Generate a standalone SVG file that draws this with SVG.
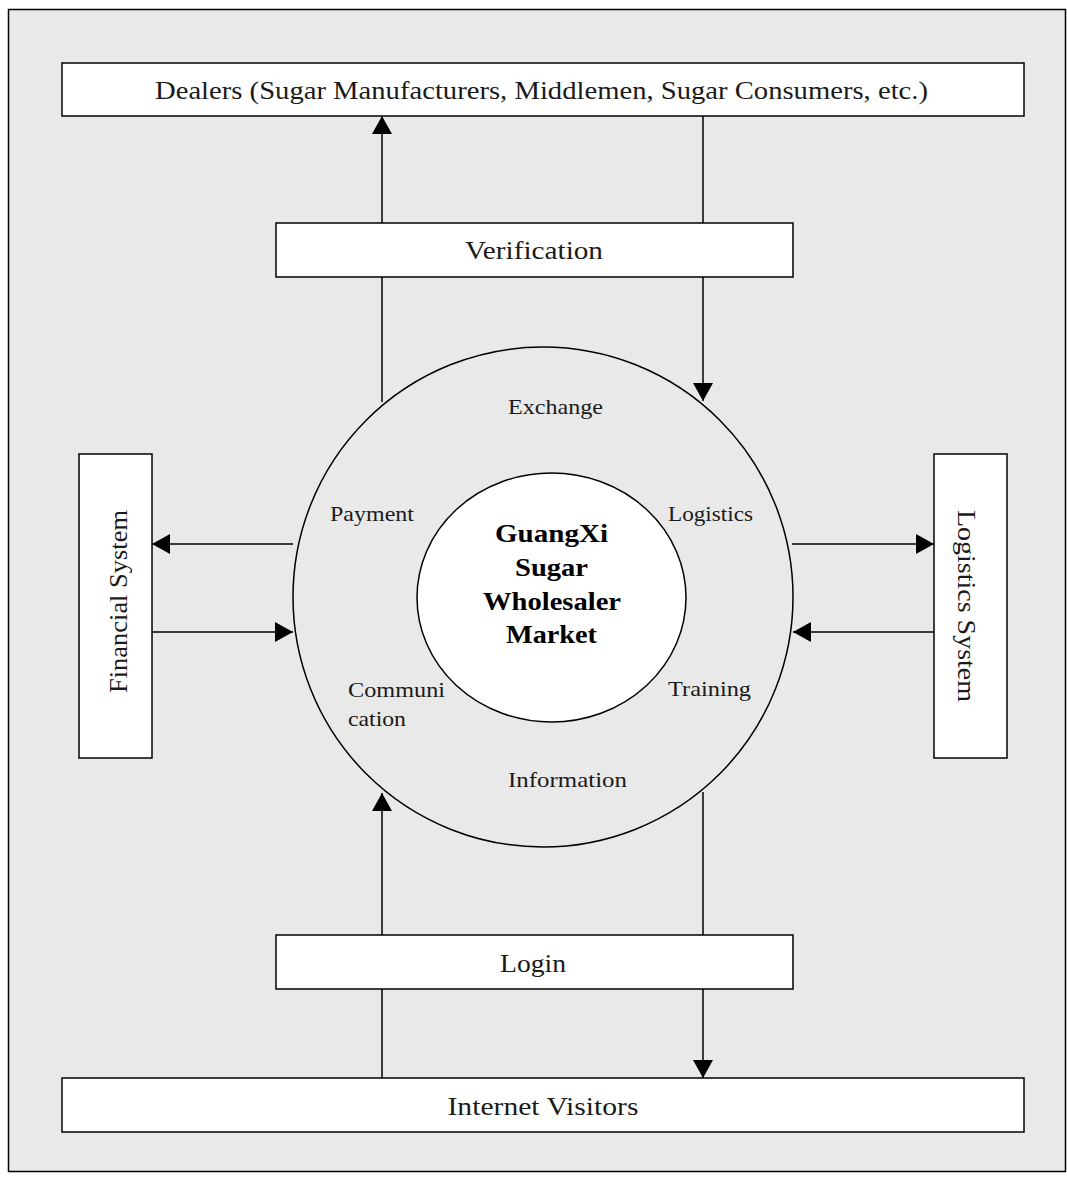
<svg xmlns="http://www.w3.org/2000/svg" width="1067" height="1182" viewBox="0 0 1067 1182">
  <style>
    .box { fill: #ffffff; stroke: #000000; stroke-width: 1.5; }
    .ring { fill: none; stroke: #000000; stroke-width: 1.5; }
    .lbl { font-family: "Liberation Serif", "Times New Roman", serif; fill: #1a1a1a; text-anchor: middle; }
    .start { text-anchor: start; }
    .big { font-size: 26px; }
    .small { font-size: 22px; }
    .core { font-family: "Liberation Serif", "Times New Roman", serif; font-size: 26px; font-weight: bold; fill: #000000; text-anchor: middle; }
    .conn line { stroke: #000000; stroke-width: 1.5; fill: none; }
  </style>
  <defs>
    <marker id="arrow" viewBox="0 0 18 20" refX="18" refY="10" markerWidth="18" markerHeight="20" markerUnits="userSpaceOnUse" orient="auto">
      <path d="M0,0 L18,10 L0,20 Z" fill="#000000"/>
    </marker>
  </defs>

  <!-- frame -->
  <rect x="8.5" y="9.5" width="1057" height="1162" fill="#e9e9e9" stroke="#000000" stroke-width="1.5"/>

  <!-- exchange ring -->
  <g id="market-ring">
    <circle class="ring" cx="543" cy="597" r="250"/>
    <text class="lbl small" x="555.5" y="414" textLength="95" lengthAdjust="spacingAndGlyphs">Exchange</text>
    <text class="lbl small" x="372" y="521" textLength="84" lengthAdjust="spacingAndGlyphs">Payment</text>
    <text class="lbl small" x="710.5" y="521" textLength="85" lengthAdjust="spacingAndGlyphs">Logistics</text>
    <text class="lbl small" x="709.5" y="696" textLength="83" lengthAdjust="spacingAndGlyphs">Training</text>
    <text class="lbl small start" x="348" y="697" textLength="97" lengthAdjust="spacingAndGlyphs">Communi</text>
    <text class="lbl small start" x="348" y="726" textLength="58" lengthAdjust="spacingAndGlyphs">cation</text>
    <text class="lbl small" x="567.5" y="787" textLength="119" lengthAdjust="spacingAndGlyphs">Information</text>
  </g>

  <!-- core market -->
  <g id="core">
    <ellipse cx="551.5" cy="597.5" rx="134.5" ry="124.5" fill="#ffffff" stroke="#000000" stroke-width="1.5"/>
    <text class="core" x="551.5" y="542" textLength="113" lengthAdjust="spacingAndGlyphs">GuangXi</text>
    <text class="core" x="551.5" y="576" textLength="73" lengthAdjust="spacingAndGlyphs">Sugar</text>
    <text class="core" x="552" y="610" textLength="138" lengthAdjust="spacingAndGlyphs">Wholesaler</text>
    <text class="core" x="551.5" y="643" textLength="91" lengthAdjust="spacingAndGlyphs">Market</text>
  </g>

  <g id="dealers">
    <rect class="box" x="62" y="63" width="962" height="53"/>
    <text class="lbl big" x="541.5" y="99" textLength="773" lengthAdjust="spacingAndGlyphs">Dealers (Sugar Manufacturers, Middlemen, Sugar Consumers, etc.)</text>
  </g>

  <g id="verification">
    <rect class="box" x="276" y="223" width="517" height="54"/>
    <text class="lbl big" x="534" y="259" textLength="138" lengthAdjust="spacingAndGlyphs">Verification</text>
  </g>

  <g id="financial">
    <rect class="box" x="79" y="454" width="73" height="304"/>
    <text class="lbl big" transform="translate(127,601.5) rotate(-90)" x="0" y="0" textLength="183" lengthAdjust="spacingAndGlyphs">Financial System</text>
  </g>

  <g id="logistics">
    <rect class="box" x="934" y="454" width="73" height="304"/>
    <text class="lbl big" transform="translate(958,606) rotate(90)" x="0" y="0" textLength="192" lengthAdjust="spacingAndGlyphs">Logistics System</text>
  </g>

  <g id="login">
    <rect class="box" x="276" y="935" width="517" height="54"/>
    <text class="lbl big" x="533" y="972" textLength="66" lengthAdjust="spacingAndGlyphs">Login</text>
  </g>

  <g id="visitors">
    <rect class="box" x="62" y="1078" width="962" height="54"/>
    <text class="lbl big" x="543" y="1115" textLength="191" lengthAdjust="spacingAndGlyphs">Internet Visitors</text>
  </g>

  <g id="connectors" class="conn">
    <!-- ring -> verification -> dealers -->
    <line x1="382" y1="402" x2="382" y2="277"/>
    <line x1="382" y1="223" x2="382" y2="116" marker-end="url(#arrow)"/>
    <!-- dealers -> verification -> ring -->
    <line x1="703" y1="116" x2="703" y2="223"/>
    <line x1="703" y1="277" x2="703" y2="401" marker-end="url(#arrow)"/>
    <!-- financial system -->
    <line x1="293" y1="544" x2="152" y2="544" marker-end="url(#arrow)"/>
    <line x1="152" y1="632" x2="293" y2="632" marker-end="url(#arrow)"/>
    <!-- logistics system -->
    <line x1="792" y1="544" x2="934" y2="544" marker-end="url(#arrow)"/>
    <line x1="934" y1="632" x2="793" y2="632" marker-end="url(#arrow)"/>
    <!-- visitors -> login -> ring -->
    <line x1="382" y1="1078" x2="382" y2="989"/>
    <line x1="382" y1="935" x2="382" y2="793" marker-end="url(#arrow)"/>
    <!-- ring -> login -> visitors -->
    <line x1="703" y1="792" x2="703" y2="935"/>
    <line x1="703" y1="989" x2="703" y2="1078" marker-end="url(#arrow)"/>
  </g>
</svg>
